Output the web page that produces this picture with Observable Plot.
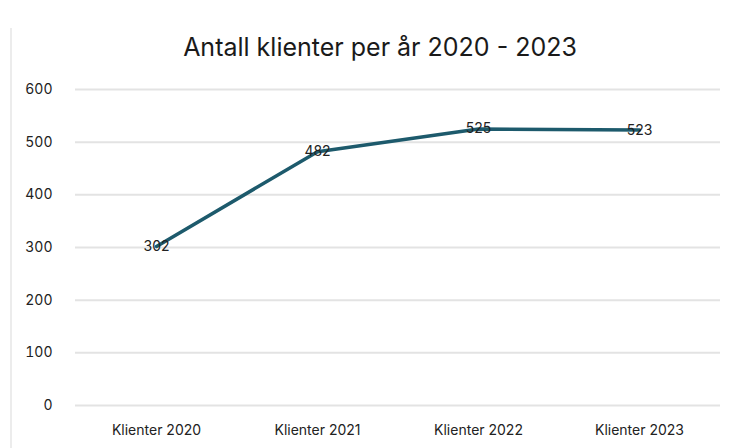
<!DOCTYPE html>
<html><head><meta charset="utf-8">
<script src="https://cdn.jsdelivr.net/npm/d3@7"></script>
<script src="https://cdn.jsdelivr.net/npm/@observablehq/plot@0.6"></script>
<style>
html,body{margin:0;padding:0;background:#fff;width:736px;height:448px;overflow:hidden;font-family:Inter,"Liberation Sans",sans-serif;}
#wrap{position:relative;width:736px;height:448px;}
#edge{position:absolute;left:10px;top:28px;width:2px;height:420px;background:#ececec;}
#title{position:absolute;left:0;top:0;width:736px;height:72px;text-align:center;line-height:94px;font-size:25px;color:#1a1a1a;padding-left:24px;box-sizing:border-box;}
#chart{position:absolute;left:0;top:72px;}
</style></head>
<body><div id="wrap"><div id="edge"></div><div id="title">Antall klienter per år 2020 - 2023</div><div id="chart"></div></div>
<script>
const categories = ["Klienter 2020","Klienter 2021","Klienter 2022","Klienter 2023"];
const values = [302, 482, 525, 523];
const yTicks = [0,100,200,300,400,500,600];
const data = categories.map((c,i)=>({cat:c, v:values[i]}));

const chart = Plot.plot({
  width: 736, height: 376,
  marginLeft: 75, marginRight: 16, marginTop: 17, marginBottom: 43,
  style: {fontFamily: "Inter, 'Liberation Sans', sans-serif", fontSize: "14px", color: "#222"},
  x: {type: "point", domain: categories, padding: 0.5, label: null, tickSize: 0, tickPadding: 20},
  y: {domain: [0,600], ticks: yTicks, label: null, tickSize: 0, tickPadding: 23},
  marks: [
    Plot.gridY(yTicks, {stroke: "#e3e3e3", strokeOpacity: 1, strokeWidth: 2}),
    Plot.line(data, {x: "cat", y: "v", stroke: "#1d5a6c", strokeWidth: 3.5}),
    Plot.text(data, {x: "cat", y: "v", text: d => String(d.v), fontSize: 14, fill: "#222"})
  ]
});
document.getElementById("chart").appendChild(chart);
</script></body></html>
